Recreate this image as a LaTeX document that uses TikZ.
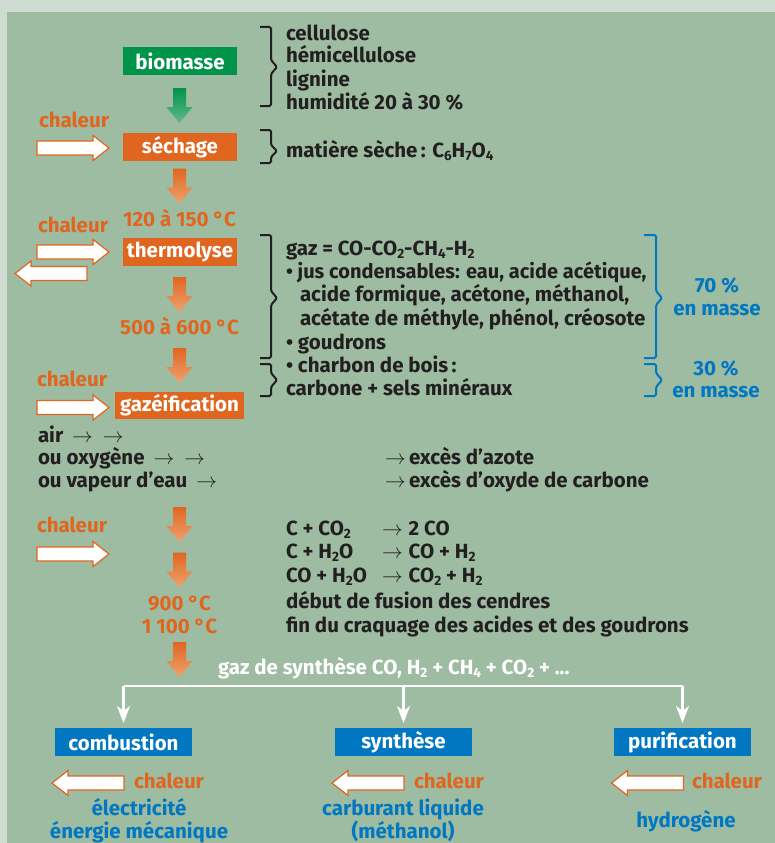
\documentclass[tikz,border=0pt]{standalone}
\usepackage{fontspec}
\setmainfont{Fira Sans}
\usetikzlibrary{arrows.meta}
\definecolor{bgout}{HTML}{CFDCD2}
\definecolor{bgin}{HTML}{9DBCA2}
\definecolor{gr}{HTML}{00934A}
\definecolor{gr2}{HTML}{62B98B}
\definecolor{org}{HTML}{E0661F}
\definecolor{org2}{HTML}{F0A26F}
\definecolor{blu}{HTML}{0077C0}
\definecolor{dk}{HTML}{231F20}
\newcommand{\sbx}[1]{\raisebox{-0.28ex}{\fontsize{13.5}{13.5}\selectfont #1}}
\newcommand{\ra}{\ensuremath{\rightarrow}}
\begin{document}
\begin{tikzpicture}[x=1pt,y=-1pt,
  every node/.style={inner sep=0pt, outer sep=0pt},
  fnt/.style={font=\fontsize{20.5}{23}\selectfont\bfseries},
  txt/.style={fnt, text=dk, anchor=base west},
  otxt/.style={fnt, text=org, anchor=base},
  btxt/.style={fnt, text=blu, anchor=base},
  boxg/.style={fnt, fill=gr, text=white, minimum width=114pt, minimum height=28pt},
  boxo/.style={fnt, fill=org, text=white, minimum width=114pt, minimum height=28pt},
  boxb/.style={fnt, fill=blu, text=white, minimum width=137pt, minimum height=28pt},
  brk/.style={draw=dk, line width=2pt, rounded corners=1.5pt},
  bbrk/.style={draw=blu, line width=2pt, rounded corners=1.5pt},
  wline/.style={draw=white, line width=2.5pt},
  warrow/.style={wline, -{Stealth[length=17pt,width=13pt,inset=5pt]}, shorten >=5pt},
  odown/.pic={\path[top color=org, bottom color=org2]
     (-6.5,-17.5) -- (-6.5,1.5) -- (-13,1.5) -- (0,17.5) -- (13,1.5) -- (6.5,1.5) -- (6.5,-17.5) -- cycle;},
  gdown/.pic={\path[top color=gr, bottom color=gr2]
     (-6.5,-17.5) -- (-6.5,1.5) -- (-13,1.5) -- (0,17.5) -- (13,1.5) -- (6.5,1.5) -- (6.5,-17.5) -- cycle;},
  wright/.pic={\draw[fill=white, draw=org, line width=1.2pt, line join=miter]
     (-36,-7) -- (20,-7) -- (20,-12.5) -- (36,0) -- (20,12.5) -- (20,7) -- (-36,7) -- cycle;},
  wleft/.pic={\draw[fill=white, draw=org, line width=1.2pt, line join=miter]
     (36,-7) -- (-20,-7) -- (-20,-12.5) -- (-36,0) -- (-20,12.5) -- (-20,7) -- (36,7) -- cycle;}
]
\useasboundingbox (0,0) rectangle (775,843);
\fill[bgout] (0,0) rectangle (775,843);
\fill[bgin] (7,12) rectangle (775,843);

% main column boxes
\node[boxg] (bio) at (180,61) {biomasse};
\node[boxo] (sech) at (180,147) {séchage};
\node[boxo] (therm) at (180,252) {thermolyse};
\node[boxo, minimum width=129pt, minimum height=27pt] (gazf) at (179.5,405) {gazéification};

% fat down arrows
\pic (a0) at (179.5,105.5) {gdown};
\pic (a1) at (179.5,186) {odown};
\pic (a2) at (179.5,294.5) {odown};
\pic (a3) at (179.5,365.5) {odown};
\pic (a4) at (179.5,524.5) {odown};
\pic (a5) at (179.5,570) {odown};
\pic (a6) at (179.5,659.5) {odown};

% chaleur inputs
\node[otxt] (ch1) at (74,127) {chaleur};
\pic (r1) at (73,148) {wright};
\node[otxt] (ch2) at (73,232) {chaleur};
\pic (r2) at (73,252) {wright};
\pic (l1) at (51,273.5) {wleft};
\node[otxt] (ch3) at (72,386) {chaleur};
\pic (r3) at (73,407.5) {wright};
\node[otxt] (ch4) at (72,532) {chaleur};
\pic (r4) at (73,554) {wright};

% temperatures
\node[otxt] (t1) at (179.5,226) {120 à 150 °C};
\node[otxt] (t2) at (179.5,334) {500 à 600 °C};
\node[otxt] (t3) at (179.5,610) {900 °C};
\node[otxt] (t4) at (179.5,633) {1 100 °C};

% right brackets
\draw[brk] (260,27) -- (271,27) -- (271,60) -- (277,67) -- (271,74) -- (271,106) -- (260,106);
\draw[brk] (260,130) -- (271,130) -- (271,145) -- (277,151) -- (271,157) -- (271,163) -- (260,163);
\draw[brk] (260,235) -- (271,235) -- (271,291) -- (277,298) -- (271,305) -- (271,358) -- (260,358);
\draw[brk] (260,364) -- (271,364) -- (271,373) -- (277,380) -- (271,387) -- (271,396) -- (260,396);
\draw[bbrk] (644,235) -- (656,235) -- (656,291) -- (662,298) -- (656,305) -- (656,358) -- (644,358);
\draw[bbrk] (644,364) -- (656,364) -- (656,373) -- (662,380) -- (656,387) -- (656,396) -- (644,396);

% right texts
\node[txt] (c1) at (286,40.5) {cellulose};
\node[txt] (c2) at (286,63) {hémicellulose};
\node[txt] (c3) at (286,86) {lignine};
\node[txt] (c4) at (286,109) {humidité 20 à 30 \%};
\node[txt] (ms) at (286,157) {matière sèche\,: C\sbx{6}H\sbx{7}O\sbx{4}};
\node[txt] (g1) at (286,255) {gaz = CO-CO\sbx{2}-CH\sbx{4}-H\sbx{2}};
\node[txt, font=\fontsize{20}{23}\selectfont\bfseries] (g2) at (286,278) {• jus condensables: eau, acide acétique,};
\node[txt] (g3) at (300,301.5) {acide formique, acétone, méthanol,};
\node[txt] (g4) at (300,325) {acétate de méthyle, phénol, créosote};
\node[txt] (g5) at (286,349) {• goudrons};
\node[txt] (g6) at (286,372) {• charbon de bois\,:};
\node[txt] (g7) at (286,395) {carbone + sels minéraux};
\node[btxt] (p70) at (717,292) {70 \%};
\node[btxt] (m70) at (717,315) {en masse};
\node[btxt] (p30) at (716,375) {30 \%};
\node[btxt] (m30) at (716,397) {en masse};

% gasifying agents
\node[txt] (ag1) at (38,442) {air\hspace{9pt}\ra\hspace{10pt}\ra};
\node[txt] (ag2) at (38,464) {ou oxygène\hspace{9pt}\ra\hspace{10pt}\ra};
\node[txt] (ag3) at (38,487) {ou vapeur d’eau\hspace{9pt}\ra};
\node[txt] (ex1) at (385,464) {\ra\,excès d’azote};
\node[txt] (ex2) at (385,487) {\ra\,excès d’oxyde de carbone};

% reactions
\node[txt] (re1) at (286,535) {C + CO\sbx{2}};
\node[txt] (re2) at (286,558) {C + H\sbx{2}O};
\node[txt] (re3) at (286,582) {CO + H\sbx{2}O};
\node[txt] (pr1) at (382,535) {\ra\hspace{6pt}2 CO};
\node[txt] (pr2) at (382,558) {\ra\hspace{6pt}CO + H\sbx{2}};
\node[txt] (pr3) at (382,582) {\ra\hspace{6pt}CO\sbx{2} + H\sbx{2}};
\node[txt] (fu) at (286,608) {début de fusion des cendres};
\node[txt] (cr) at (286,632) {fin du craquage des acides et des goudrons};

% synthesis gas
\node[fnt, text=white, anchor=base west] (syn) at (218,674) {gaz de synthèse CO, H\sbx{2} + CH\sbx{4} + CO\sbx{2} + ...};
\coordinate (split) at (0,686);

% outputs
\node[boxb] (comb) at (123.5,742) {combustion};
\node[boxb] (synt) at (403.5,742) {synthèse};
\node[boxb] (puri) at (682.5,742) {purification};
\draw[wline] (comb.north |- split) -- (puri.north |- split);
\draw[warrow] (comb.north |- split) -- (comb.north);
\draw[warrow] (synt.north |- split) -- (synt.north);
\draw[warrow] (puri.north |- split) -- (puri.north);

\pic (b1) at (88,783) {wleft};
\pic (b2) at (368,783) {wleft};
\pic (b3) at (647.5,783) {wleft};
\node[fnt, text=org, anchor=base west] (bc1) at (134,788) {chaleur};
\node[fnt, text=org, anchor=base west] (bc2) at (414,788) {chaleur};
\node[fnt, text=org, anchor=base west] (bc3) at (692,788) {chaleur};
\node[btxt] (o1) at (139,815) {électricité};
\node[btxt] (o2) at (139,838) {énergie mécanique};
\node[btxt] (o3) at (403,815) {carburant liquide};
\node[btxt] (o4) at (403,838) {(méthanol)};
\node[btxt] (o5) at (686,827) {hydrogène};
\end{tikzpicture}
\end{document}
